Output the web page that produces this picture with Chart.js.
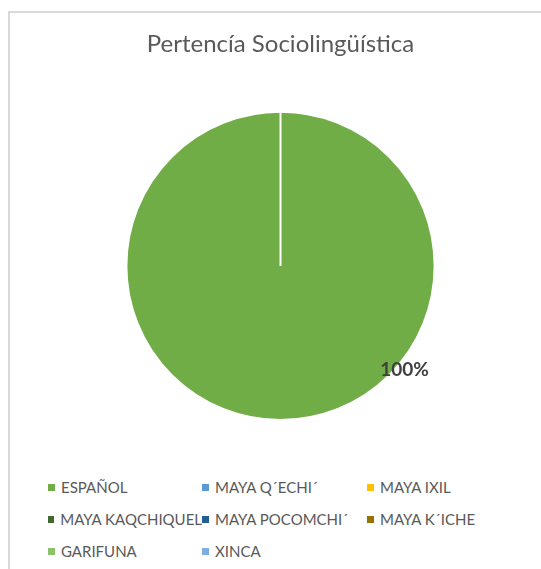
<!DOCTYPE html>
<html>
<head>
<meta charset="utf-8">
<script src="https://cdn.jsdelivr.net/npm/chart.js@4"></script>
<style>
    html, body { margin: 0; padding: 0; background: #fff; overflow: hidden; }
    body { width: 541px; height: 569px; position: relative; }
    #frame {
        position: absolute; left: 8px; top: 11px; width: 560px; height: 580px;
        border-left: 2px solid #d9d9d9; border-top: 2px solid #d9d9d9;
    }
    #chartbox { position: absolute; left: 0; top: 0; width: 531px; height: 447px; }
    #legend {
        position: absolute; left: 38px; top: 458px;
        display: grid; grid-template-columns: 154px 165px 150px; grid-auto-rows: 32px;
        font-family: Lato, sans-serif; font-size: 15px; color: #595959;
    }
    .item { display: flex; align-items: center; white-space: nowrap; }
    .box { width: 7px; height: 7px; margin-right: 6px; }
</style>
</head>
<body>
<div id="frame">
    <div id="chartbox"><canvas id="chart"></canvas></div>
    <div id="legend"></div>
</div>
<script>
const categories = ['ESPAÑOL', 'MAYA Q´ECHI´', 'MAYA IXIL', 'MAYA KAQCHIQUEL', 'MAYA POCOMCHI´', 'MAYA K´ICHE', 'GARIFUNA', 'XINCA'];
const percentages = [100, 0, 0, 0, 0, 0, 0, 0];
const sliceColors = ['#70ad47', '#5b9bd5', '#ffc000', '#43682b', '#255e91', '#997300', '#8cc168', '#7cafdd'];

// label sits where Excel put it, at about 40 degrees below horizontal
const labelAngle = 40 * Math.PI / 180;

const percentLabels = {
    id: 'percentLabels',
    afterDatasetsDraw(chart) {
        const ctx = chart.ctx;
        const meta = chart.getDatasetMeta(0);
        ctx.save();
        ctx.font = 'bold 19px Lato, sans-serif';
        ctx.fillStyle = '#404040';
        ctx.textAlign = 'center';
        ctx.textBaseline = 'middle';
        meta.data.forEach(function (arc, i) {
            const value = percentages[i];
            if (!value) return;
            const r = arc.outerRadius * 1.05;
            ctx.fillText(value + '%', arc.x + Math.cos(labelAngle) * r, arc.y + Math.sin(labelAngle) * r);
        });
        ctx.restore();
    }
};

const chart = new Chart(document.getElementById('chart'), {
    type: 'pie',
    data: {
        labels: categories,
        datasets: [{
            data: percentages,
            backgroundColor: sliceColors,
            borderColor: '#ffffff',
            borderWidth: 2,
            hoverOffset: 0
        }]
    },
    options: {
        responsive: true,
        maintainAspectRatio: false,
        animation: false,
        layout: { padding: { left: 10, bottom: 39 } },
        plugins: {
            legend: { display: false },
            tooltip: { enabled: false },
            title: {
                display: true,
                text: 'Pertencía Sociolingüística',
                color: '#595959',
                font: { family: 'Lato, sans-serif', size: 24, weight: 'normal' },
                padding: { top: 17, bottom: 52 }
            }
        }
    },
    plugins: [percentLabels]
});

// html legend in columns, like the original
const legend = document.getElementById('legend');
chart.options.plugins.legend.labels.generateLabels(chart).forEach(function (item) {
    const div = document.createElement('div');
    div.className = 'item';
    const box = document.createElement('span');
    box.className = 'box';
    box.style.background = item.fillStyle;
    div.appendChild(box);
    div.appendChild(document.createTextNode(item.text));
    legend.appendChild(div);
});
</script>
</body>
</html>
